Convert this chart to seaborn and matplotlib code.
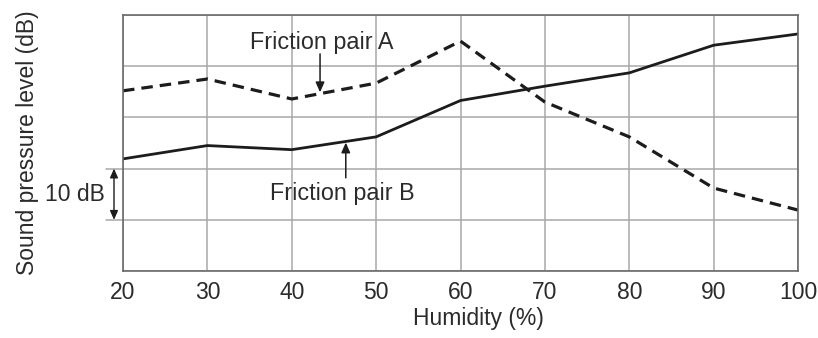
import matplotlib
matplotlib.use("Agg")
import matplotlib.pyplot as plt
import seaborn as sns
import pandas as pd

# Humidity sweep and measured sound pressure levels (relative, dB)
humidity = [20, 30, 40, 50, 60, 70, 80, 90, 100]
pair_a = [35.2, 37.5, 33.6, 36.7, 44.9, 33.0, 26.2, 16.2, 11.9]
pair_b = [21.9, 24.5, 23.7, 26.2, 33.3, 36.1, 38.7, 44.1, 46.3]
x_ticks = [20, 30, 40, 50, 60, 70, 80, 90, 100]
label_a = "Friction pair A"
label_b = "Friction pair B"
scale_label = "10 dB"

sns.set_theme(style="whitegrid")
plt.rcParams["font.family"] = ["Liberation Sans", "DejaVu Sans"]

text_col = "#2b2b2b"
line_col = "#1c1c1c"
grid_col = "#a8a8a8"

fig = plt.figure(figsize=(8.18, 3.38), dpi=100)
ax = fig.add_axes([0.1504, 0.1982, 0.8252, 0.7574])

df = pd.DataFrame({"Humidity": humidity + humidity,
                   "SPL": pair_a + pair_b,
                   "Pair": [label_a] * len(pair_a) + [label_b] * len(pair_b)})

sns.lineplot(data=df[df["Pair"] == label_a], x="Humidity", y="SPL", ax=ax,
             color=line_col, linewidth=2.3, legend=False)
ax.lines[-1].set_dashes((3.6, 2.2))
sns.lineplot(data=df[df["Pair"] == label_b], x="Humidity", y="SPL", ax=ax,
             color=line_col, linewidth=2.0, legend=False)

ax.set_xlim(20, 100)
ax.set_ylim(0, 50)
ax.set_xticks(x_ticks)
ax.set_yticks([0, 10, 20, 30, 40, 50])
ax.set_yticklabels([])
ax.tick_params(axis="both", length=0, labelsize=16.5, colors=text_col)
ax.tick_params(axis="x", pad=7)
ax.grid(True, color=grid_col, linewidth=1.1)
ax.set_facecolor("white")
for side, sp in ax.spines.items():
    sp.set_visible(True)
    sp.set_color("#6a6a6a")
    sp.set_linewidth(1.2)

ax.set_xlabel("Humidity (%)", fontsize=16.5, color=text_col)
ax.xaxis.set_label_coords(0.526, -0.184)
ax.xaxis.label.set_va("center")
ax.set_ylabel("Sound pressure level (dB)", fontsize=16.5, color=text_col)
ax.yaxis.set_label_coords(-0.142, 0.5)
ax.yaxis.label.set_va("center")

# Series labels with pointer arrows
ax.text(43.6, 44.6, label_a, fontsize=16.8, color=text_col, ha="center", va="center")
ax.annotate("", xy=(43.35, 34.9), xytext=(43.35, 42.4),
            arrowprops=dict(arrowstyle="-|>,head_length=0.5,head_width=0.22",
                            color=line_col, lw=1.1, shrinkA=0, shrinkB=0))
ax.text(46.0, 15.2, label_b, fontsize=16.8, color=text_col, ha="center", va="center")
ax.annotate("", xy=(46.4, 25.1), xytext=(46.4, 18.2),
            arrowprops=dict(arrowstyle="-|>,head_length=0.5,head_width=0.22",
                            color=line_col, lw=1.1, shrinkA=0, shrinkB=0))

# 10 dB scale bracket left of the axis
for yv in (10, 20):
    ax.plot([17.95, 20], [yv, yv], color=grid_col, lw=1.1, clip_on=False)
ax.annotate("", xy=(18.93, 10), xytext=(18.93, 20), annotation_clip=False,
            arrowprops=dict(arrowstyle="<|-|>,head_length=0.45,head_width=0.2",
                            color=line_col, lw=1.0, shrinkA=0, shrinkB=0))
ax.text(14.3, 14.9, scale_label, fontsize=16.5, color=text_col, ha="center",
        va="center", clip_on=False)

fig.savefig("out.png", dpi=100, facecolor="white")
